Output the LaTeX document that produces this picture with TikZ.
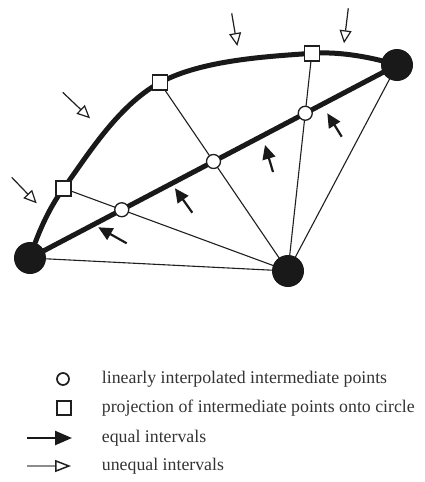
\documentclass[tikz,border=0pt]{standalone}
\usepackage{fontspec}
\setmainfont{Liberation Serif}
\usetikzlibrary{arrows.meta,calc,backgrounds}
\tikzset{
  bigdot/.style={circle, fill=black!90, minimum size=32pt, inner sep=0pt},
  ipt/.style={circle, draw=black!88, fill=white, line width=1.3pt, minimum size=14pt, inner sep=0pt},
  ppt/.style={rectangle, draw=black!88, fill=white, line width=1.4pt, minimum size=15pt, inner sep=0pt},
  thinline/.style={line width=1.1pt, black!88},
  thickline/.style={line width=5pt, black!90},
  eqarr/.style={-{Triangle[length=14pt,width=13pt]}, line width=2.2pt, black!90},
  uneqarr/.style={-{Triangle[open,length=13pt,width=12pt]}, line width=1.2pt, black!88},
  lbl/.style={anchor=base west, inner sep=0pt, font=\fontsize{17.8}{20}\selectfont, text=black!80}
}
\begin{document}
\begin{tikzpicture}[x=1pt, y=-1pt]
  \useasboundingbox (0,0) rectangle (425,482);
  % end points and centre
  \node[bigdot] (l) at (30,258) {};
  \node[bigdot] (r) at (397,65) {};
  \node[bigdot] (c) at (288,271) {};
  % interpolated points and their projections
  \node[ipt] (i1) at ($(l.center)!0.25!(r.center)$) {};
  \node[ipt] (i2) at ($(l.center)!0.5!(r.center)$) {};
  \node[ipt] (i3) at ($(l.center)!0.75!(r.center)$) {};
  \node[ppt] (q1) at ($(c.center)!1.35!(i1.center)$) {};
  \node[ppt] (q2) at ($(c.center)!1.72!(i2.center)$) {};
  \node[ppt] (q3) at ($(c.center)!1.38!(i3.center)$) {};
  \begin{pgfonlayer}{background}
    \foreach \n in {l,q1,q2,q3,r} \draw[thinline] (c.center) -- (\n.center);
    \draw[thickline] (l.center) -- (r.center);
    \draw[thickline] plot[smooth, tension=0.62] coordinates {(l.center) (q1.center) (q2.center) (q3.center) (r.center)};
  \end{pgfonlayer}
  % interval arrows
  \foreach \xa/\ya/\xb/\yb in {126.7/243.3/98.3/227.3, 192.3/212.7/175/188.3,
      273/172/265/145, 341.7/136.7/327.3/113.3}
    \draw[eqarr] (\xa,\ya) -- (\xb,\yb);
  \foreach \xa/\ya/\xb/\yb in {11.7/177.3/36.7/203.3, 62.7/92.3/90/118.3,
      231.7/13.3/237.3/46, 348.3/8.3/344/43.3}
    \draw[uneqarr] (\xa,\ya) -- (\xb,\yb);
  % legend
  \node[ipt, minimum size=12pt, line width=1.7pt] (li) at (63,379) {};
  \node[ppt, minimum size=14pt, line width=2.2pt] (lq) at (64,408) {};
  \coordinate (le1) at (27,438); \coordinate (le2) at (72,438);
  \coordinate (lu1) at (27,466); \coordinate (lu2) at (71,466);
  \draw[line width=2.5pt, black!90, -{Triangle[length=17pt,width=14pt]}] (le1) -- (le2);
  \draw[line width=2.2pt, black!45, -{Triangle[open,length=16pt,width=12pt,color=black!88,line width=1.5pt]}] (lu1) -- (lu2);
  \node[lbl] (t1) at (101.7,383) {linearly interpolated intermediate points};
  \node[lbl] (t2) at (101.7,412) {projection of intermediate points onto circle};
  \node[lbl] (t3) at (101.7,442) {equal intervals};
  \node[lbl] (t4) at (101.7,470) {unequal intervals};
\end{tikzpicture}
\end{document}
